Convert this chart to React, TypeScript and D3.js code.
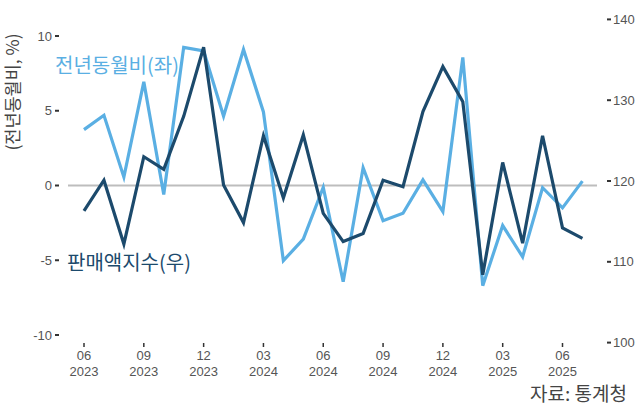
import React from "react";
import * as d3 from "d3";

const months = [
  "2023-06","2023-07","2023-08","2023-09","2023-10","2023-11","2023-12",
  "2024-01","2024-02","2024-03","2024-04","2024-05","2024-06","2024-07","2024-08","2024-09","2024-10","2024-11","2024-12",
  "2025-01","2025-02","2025-03","2025-04","2025-05","2025-06","2025-07",
];
const yoy = [3.74, 4.7, 0.56, 6.93, -0.6, 9.24, 9.01, 4.63, 9.1, 4.92, -5.03, -3.58, -0.12, -6.44, 1.19, -2.35, -1.86, 0.38, -1.74, 8.57, -6.7, -2.68, -4.77, -0.15, -1.5, 0.29];
const salesIndex = [116.3, 120.1, 112.2, 123.0, 121.45, 128.0, 136.55, 119.5, 114.85, 125.6, 117.9, 125.7, 116.0, 112.5, 113.5, 120.1, 119.3, 128.6, 134.15, 129.8, 108.4, 122.3, 112.3, 125.6, 114.2, 112.9];
const leftTicks = [10, 5, 0, -5, -10];
const rightTicks = [140, 130, 120, 110, 100];
const xTickIdx = [0, 3, 6, 9, 12, 15, 18, 21, 24];

const W = 637, H = 409;
const LIGHT = "#5aafe3";
const DARK = "#1c4a6c";
const KFONT = "'Noto Sans CJK KR', 'Noto Sans', sans-serif";
const NFONT = "'Liberation Sans', Arial, sans-serif";

export default function App() {
  const x = d3.scaleLinear().domain([0, 24]).range([84, 562.5]);
  const yL = d3.scaleLinear().domain([-10, 10]).range([335, 36]);
  const yR = d3.scaleLinear().domain([100, 140]).range([342.6, 19.4]);
  const parse = d3.timeParse("%Y-%m");
  const dates = months.map((m) => parse(m) as Date);

  const lineL = d3.line<number>().x((_, i) => x(i)).y((d) => yL(d));
  const lineR = d3.line<number>().x((_, i) => x(i)).y((d) => yR(d));

  return (
    <svg width={W} height={H} style={{ position: "absolute", left: 0, top: 0, background: "#fff" }}>
      <rect width={W} height={H} fill="#fff" />
      <line x1={68} x2={597} y1={yL(0)} y2={yL(0)} stroke="#bdbdbd" strokeWidth={2} />
      {leftTicks.map((t) => (
        <g key={"l" + t}>
          <line x1={55} x2={59} y1={yL(t)} y2={yL(t)} stroke="#333" strokeWidth={2} />
          <text x={52} y={yL(t)} dy="0.35em" textAnchor="end" fontFamily={NFONT} fontSize={13} fill="#555">{t}</text>
        </g>
      ))}
      {rightTicks.map((t) => (
        <g key={"r" + t}>
          <line x1={607} x2={611} y1={yR(t)} y2={yR(t)} stroke="#333" strokeWidth={2} />
          <text x={613} y={yR(t)} dy="0.35em" textAnchor="start" fontFamily={NFONT} fontSize={13} fill="#555">{t}</text>
        </g>
      ))}
      {xTickIdx.map((i) => (
        <g key={"x" + i}>
          <line x1={x(i)} x2={x(i)} y1={343} y2={347} stroke="#333" strokeWidth={1.5} />
          <text x={x(i)} y={360} textAnchor="middle" fontFamily={NFONT} fontSize={13} fill="#555">{d3.timeFormat("%m")(dates[i])}</text>
          <text x={x(i)} y={376} textAnchor="middle" fontFamily={NFONT} fontSize={13} fill="#555">{d3.timeFormat("%Y")(dates[i])}</text>
        </g>
      ))}
      <path d={lineL(yoy) || ""} fill="none" stroke={LIGHT} strokeWidth={3.2} strokeLinejoin="miter" />
      <path d={lineR(salesIndex) || ""} fill="none" stroke={DARK} strokeWidth={3.2} strokeLinejoin="miter" />
      <text transform="translate(19,92) rotate(-90)" textAnchor="middle" fontFamily={KFONT} fontSize={17.5} fill="#444">(전년동월비, %)</text>
      <text x={55} y={73} fontFamily={KFONT} fontSize={20} fill={LIGHT}>전년동월비(좌)</text>
      <text x={67} y={270} fontFamily={KFONT} fontSize={20} fill={DARK}>판매액지수(우)</text>
      <text x={627} y={401} textAnchor="end" fontFamily={KFONT} fontSize={19} fill="#444">자료: 통계청</text>
    </svg>
  );
}
